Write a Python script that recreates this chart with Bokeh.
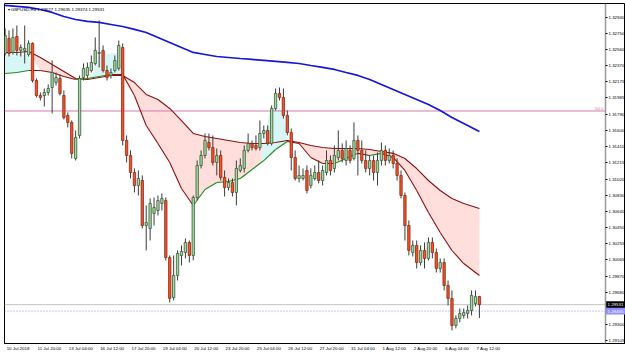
import numpy as np
from bokeh.plotting import figure
from bokeh.models import FixedTicker, PrintfTickFormatter, Label
from bokeh.core.properties import value
from bokeh.embed import file_html
from bokeh.resources import INLINE

# ---------------- data (GBPUSD H4) ----------------
opens = [
1.32513, 1.32691, 1.32525, 1.32715, 1.32549, 1.32549, 1.32501, 1.32632, 1.32192, 1.32014,
1.32014, 1.32050, 1.32109, 1.32169, 1.32216, 1.32014, 1.31777, 1.31694, 1.31267, 1.31540,
1.32228, 1.32252, 1.32311, 1.32394, 1.32513, 1.32549, 1.32311, 1.32252, 1.32311, 1.32335,
1.32584, 1.31480, 1.31302, 1.31100, 1.30946, 1.31005, 1.30471, 1.30436, 1.30614, 1.30649,
1.30732, 1.30768, 1.30091, 1.29617, 1.29878, 1.30115, 1.30151, 1.30270, 1.30115, 1.30804,
1.31183, 1.31302, 1.31457, 1.31397, 1.31219, 1.31302, 1.31041, 1.30922, 1.30982, 1.30863,
1.31124, 1.31148, 1.31362, 1.31445, 1.31421, 1.31397, 1.31563, 1.31599, 1.31445, 1.31860,
1.32038, 1.31991, 1.31777, 1.31575, 1.31278, 1.31029, 1.31029, 1.31124, 1.30946, 1.31029,
1.31100, 1.31005, 1.31100, 1.31243, 1.31148, 1.31278, 1.31362, 1.31243, 1.31362, 1.31267,
1.31480, 1.31362, 1.31243, 1.31148, 1.31243, 1.31100, 1.31243, 1.31362, 1.31243, 1.31302,
1.31207, 1.31065, 1.30827, 1.30471, 1.30151, 1.30234, 1.30032, 1.30175, 1.30080, 1.30270,
1.30151, 1.29961, 1.30032, 1.29759, 1.29605, 1.29284, 1.29367, 1.29403, 1.29427, 1.29462,
1.29545, 1.29627]
highs = [
1.32810, 1.32786, 1.32810, 1.32845, 1.32620, 1.32845, 1.32667, 1.32644, 1.32216, 1.32050,
1.32097, 1.32145, 1.32430, 1.32287, 1.32264, 1.32074, 1.31813, 1.31718, 1.31599, 1.32252,
1.32394, 1.32406, 1.32489, 1.32703, 1.32905, 1.32608, 1.32370, 1.32335, 1.32489, 1.32667,
1.32632, 1.31540, 1.31362, 1.31148, 1.31124, 1.31065, 1.30709, 1.30792, 1.30804, 1.30827,
1.30851, 1.30804, 1.30115, 1.30115, 1.30175, 1.30234, 1.30317, 1.30293, 1.30827, 1.31243,
1.31362, 1.31563, 1.31563, 1.31540, 1.31385, 1.31362, 1.31124, 1.31029, 1.31029, 1.31243,
1.31267, 1.31421, 1.31563, 1.31480, 1.31540, 1.31718, 1.31658, 1.31658, 1.31896, 1.32097,
1.32109, 1.32097, 1.31836, 1.31623, 1.31362, 1.31183, 1.31148, 1.31183, 1.31148, 1.31183,
1.31243, 1.31183, 1.31362, 1.31302, 1.31421, 1.31599, 1.31445, 1.31480, 1.31421, 1.31694,
1.31540, 1.31480, 1.31362, 1.31302, 1.31302, 1.31338, 1.31457, 1.31421, 1.31385, 1.31362,
1.31267, 1.31124, 1.30863, 1.30531, 1.30293, 1.30293, 1.30234, 1.30270, 1.30329, 1.30329,
1.30198, 1.30080, 1.30080, 1.29818, 1.29700, 1.29403, 1.29486, 1.29486, 1.29522, 1.29700,
1.29700, 1.29635]
lows = [
1.32489, 1.32477, 1.32501, 1.32489, 1.32477, 1.32394, 1.32477, 1.32169, 1.31991, 1.31955,
1.31884, 1.32014, 1.31801, 1.32133, 1.32014, 1.31730, 1.31635, 1.31267, 1.31243, 1.31504,
1.32192, 1.32216, 1.32287, 1.32370, 1.32347, 1.32287, 1.32192, 1.32216, 1.32287, 1.32311,
1.31421, 1.31219, 1.31029, 1.30863, 1.30827, 1.30436, 1.30175, 1.30293, 1.30471, 1.30590,
1.30649, 1.30056, 1.29557, 1.29581, 1.29818, 1.29996, 1.30080, 1.30032, 1.30056, 1.30768,
1.31148, 1.31267, 1.31362, 1.31183, 1.31065, 1.31005, 1.30816, 1.30887, 1.30816, 1.30709,
1.31100, 1.31100, 1.31338, 1.31362, 1.31362, 1.31362, 1.31504, 1.31421, 1.31421, 1.31836,
1.31955, 1.31741, 1.31540, 1.31124, 1.31005, 1.30982, 1.31005, 1.30851, 1.30910, 1.31005,
1.30970, 1.30946, 1.31065, 1.31065, 1.31100, 1.31243, 1.31219, 1.31183, 1.31207, 1.31243,
1.31065, 1.31207, 1.31100, 1.31065, 1.31005, 1.30946, 1.31183, 1.31183, 1.31207, 1.31148,
1.31005, 1.30792, 1.30293, 1.30115, 1.30103, 1.29961, 1.29996, 1.29961, 1.30056, 1.30080,
1.29913, 1.29913, 1.29700, 1.29522, 1.29225, 1.29249, 1.29320, 1.29367, 1.29367, 1.29403,
1.29510, 1.29374]
closes = [
1.32727, 1.32513, 1.32703, 1.32549, 1.32584, 1.32572, 1.32632, 1.32192, 1.32014, 1.31991,
1.32050, 1.32097, 1.32287, 1.32228, 1.32038, 1.31753, 1.31694, 1.31326, 1.31516, 1.32216,
1.32335, 1.32347, 1.32406, 1.32549, 1.32525, 1.32311, 1.32228, 1.32287, 1.32430, 1.32608,
1.31480, 1.31302, 1.31100, 1.30946, 1.31029, 1.30471, 1.30507, 1.30732, 1.30685, 1.30768,
1.30792, 1.30091, 1.29605, 1.29878, 1.30139, 1.30163, 1.30270, 1.30115, 1.30804, 1.31183,
1.31302, 1.31480, 1.31397, 1.31219, 1.31302, 1.31041, 1.30922, 1.30982, 1.30863, 1.31148,
1.31183, 1.31362, 1.31445, 1.31397, 1.31385, 1.31563, 1.31599, 1.31445, 1.31860, 1.32038,
1.31991, 1.31777, 1.31575, 1.31278, 1.31029, 1.31065, 1.31065, 1.30887, 1.31065, 1.31100,
1.31005, 1.31124, 1.31243, 1.31124, 1.31302, 1.31362, 1.31267, 1.31385, 1.31243, 1.31480,
1.31362, 1.31243, 1.31148, 1.31243, 1.31100, 1.31243, 1.31362, 1.31243, 1.31302, 1.31207,
1.31065, 1.30827, 1.30471, 1.30175, 1.30234, 1.30032, 1.30175, 1.30080, 1.30270, 1.30151,
1.29961, 1.30032, 1.29759, 1.29605, 1.29284, 1.29367, 1.29427, 1.29439, 1.29462, 1.29640,
1.29627, 1.29531]

# moving averages sampled at bar indices
ma_idx = [0, 3, 6, 9, 12, 15, 18, 21, 24, 27, 30, 33, 36, 39, 42, 45, 48, 51, 54, 57,
          60, 63, 66, 69, 72, 75, 78, 81, 84, 87, 90, 93, 96, 99, 102, 105, 108, 111, 114, 117, 121]
ma_blue = [1.33083, 1.33071, 1.33059, 1.33035, 1.33000, 1.32952, 1.32916, 1.32893, 1.32881, 1.32857,
           1.32833, 1.32798, 1.32762, 1.32703, 1.32643, 1.32584, 1.32525, 1.32501, 1.32477, 1.32465,
           1.32453, 1.32442, 1.32430, 1.32418, 1.32406, 1.32394, 1.32370, 1.32347, 1.32323, 1.32287,
           1.32252, 1.32204, 1.32145, 1.32085, 1.32026, 1.31967, 1.31907, 1.31836, 1.31753, 1.31682,
           1.31587]
ma_slow = [1.32525, 1.32525, 1.32537, 1.32465, 1.32382, 1.32299, 1.32216, 1.32204, 1.32228, 1.32252,
           1.32252, 1.32168, 1.32026, 1.31967, 1.31860, 1.31717, 1.31563, 1.31527, 1.31504, 1.31480,
           1.31456, 1.31444, 1.31444, 1.31456, 1.31480, 1.31456, 1.31420, 1.31397, 1.31385, 1.31385,
           1.31385, 1.31373, 1.31349, 1.31327, 1.31266, 1.31147, 1.31005, 1.30886, 1.30791, 1.30732,
           1.30672]
ma_mid = [1.32275, 1.32287, 1.32311, 1.32311, 1.32287, 1.32240, 1.32204, 1.32216, 1.32240, 1.32263,
          1.32263, 1.32014, 1.31658, 1.31444, 1.31219, 1.30910, 1.30708, 1.30898, 1.30981, 1.30993,
          1.31029, 1.31135, 1.31242, 1.31373, 1.31468, 1.31444, 1.31278, 1.31207, 1.31207, 1.31266,
          1.31327, 1.31302, 1.31327, 1.31278, 1.31124, 1.30886, 1.30625, 1.30388, 1.30174, 1.30019,
          1.29877]

# bullish cloud segments (upper edge / lower edge)
cyan_idx = [[0, 3, 6, 7], [22, 24, 27, 29, 30], [65, 67, 68, 70, 71, 72]]
cyan_top = [[1.32501, 1.32513, 1.32513, 1.32323],
            [1.32228, 1.32489, 1.32513, 1.32525, 1.32263],
            [1.31207, 1.31741, 1.31860, 1.31860, 1.31812, 1.31468]]
cyan_bot = [[1.32275, 1.32287, 1.32311, 1.32323],
            [1.32228, 1.32240, 1.32263, 1.32263, 1.32263],
            [1.31207, 1.31278, 1.31326, 1.31409, 1.31444, 1.31468]]

price_ticks = [1.32940, 1.32750, 1.32560, 1.32370, 1.32175, 1.31985, 1.31790, 1.31600, 1.31410,
               1.31215, 1.31020, 1.30830, 1.30640, 1.30450, 1.30255, 1.30065, 1.29870, 1.29680,
               1.29300, 1.29105]
time_tick_bars = [0, 8, 16, 24, 32, 40, 48, 56, 64, 72, 80, 88, 96, 104, 112, 120]
time_tick_labels = ["10 Jul 2018", "11 Jul 20:00", "13 Jul 04:00", "16 Jul 12:00", "17 Jul 20:00",
                    "19 Jul 04:00", "20 Jul 12:00", "23 Jul 20:00", "25 Jul 04:00", "26 Jul 12:00",
                    "27 Jul 20:00", "31 Jul 04:00", "1 Aug 12:00", "2 Aug 20:00", "6 Aug 04:00",
                    "7 Aug 12:00"]
fib_level = 1.31830
ask_line = 1.29455
tag_levels = [1.29531, 1.29455]
tag_texts = ["1.29531", "1.29455"]
title_text = "\u25be GBPUSD,H4  1.29627 1.29635 1.29374 1.29531"

# ---------------- figure ----------------
FONT = "Liberation Sans"
FS = "4.4px"
PX = 3.92                      # pixels per bar
X0 = -0.15
XA = X0 + (605 - 4) / PX       # price-scale position
X1 = X0 + 621 / PX
Y0, Y1 = 1.29070, 1.33106
HALF_TAG = 3.4 * (Y1 - Y0) / 340

p = figure(width=625, height=353, x_range=(X0, X1), y_range=(Y0, Y1),
           output_backend="svg", toolbar_location=None, y_axis_location="right",
           min_border_left=4, min_border_top=3, min_border_right=0, min_border_bottom=10,
           background_fill_color="white", border_fill_color="white")
p.xgrid.visible = False
p.ygrid.visible = False
p.outline_line_color = "black"
p.outline_line_width = 1

idx = np.arange(len(opens))
o = np.array(opens); c = np.array(closes); h = np.array(highs); l = np.array(lows)

# clouds
slow = np.array(ma_slow); mid = np.array(ma_mid); mi = np.array(ma_idx)
lower = np.where(mi >= 7, np.minimum(mid, slow), slow)
p.varea(x=mi, y1=slow, y2=lower, fill_color="#ffdedb", fill_alpha=1.0)
for ci, ct, cb in zip(cyan_idx, cyan_top, cyan_bot):
    p.varea(x=ci, y1=ct, y2=cb, fill_color="#d9f6f6", fill_alpha=1.0)

# horizontal levels (end at the price scale)
p.segment(x0=[X0], y0=[fib_level], x1=[XA], y1=[fib_level], line_color="#d67aae", line_width=1)
p.segment(x0=[X0], y0=[closes[-1]], x1=[XA], y1=[closes[-1]], line_color="#c4c4c4", line_width=1)
p.segment(x0=[X0], y0=[ask_line], x1=[XA], y1=[ask_line], line_color="#8f8fff", line_width=1,
          line_dash="1 2")

# moving averages
p.line(mi, slow, line_color="#8b1010", line_width=1.1)
seg_col = ["#1e8c1e" if mid[k + 1] > mid[k] else "#8b1010" for k in range(len(mid) - 1)]
p.segment(x0=mi[:-1], y0=mid[:-1], x1=mi[1:], y1=mid[1:], line_color=seg_col, line_width=1.1)
p.line(ma_idx, ma_blue, line_color="#1616d6", line_width=1.7)

# candles
up = c >= o
body_fill = np.where(up, "#a3d9a3", "#f2542d")
body_line = np.where(up, "#3a5a3a", "#8a2a10")
p.segment(x0=idx, y0=h, x1=idx, y1=l, line_color="#3c3c3c", line_width=1)
p.vbar(x=idx, width=0.6, top=np.maximum(o, c), bottom=np.minimum(o, c),
       fill_color=list(body_fill), line_color=list(body_line), line_width=0.8)

# price tags on the price scale
tl = np.array(tag_levels)
p.quad(left=XA, right=X1, top=tl + HALF_TAG, bottom=tl - HALF_TAG,
       fill_color=["black", "#8f8fff"], line_color=None)
p.text(x=[XA, XA], y=tag_levels, text=tag_texts, x_offset=2, text_color="white",
       text_font=value(FONT), text_font_size=FS, text_baseline="middle", text_align="left")

# price axis (drawn at the scale position)
p.yaxis.fixed_location = XA
p.yaxis.ticker = FixedTicker(ticks=price_ticks)
p.yaxis.formatter = PrintfTickFormatter(format="%.5f")
p.yaxis.major_label_text_font = FONT
p.yaxis.major_label_text_font_size = FS
p.yaxis.major_label_text_color = "black"
p.yaxis.major_tick_out = 2
p.yaxis.major_tick_in = 0
p.yaxis.minor_tick_out = 0
p.yaxis.minor_tick_in = 0
p.yaxis.major_label_standoff = 1
p.yaxis.axis_line_color = "#9a9a9a"
p.yaxis.axis_line_width = 1.5

xt = [round(b + 3.3, 1) for b in time_tick_bars]
p.xaxis.ticker = FixedTicker(ticks=xt)
p.xaxis.major_label_overrides = {t: s for t, s in zip(xt, time_tick_labels)}
p.xaxis.major_label_text_font = FONT
p.xaxis.major_label_text_font_size = FS
p.xaxis.major_label_text_color = "black"
p.xaxis.major_tick_out = 0
p.xaxis.major_tick_in = 0
p.xaxis.minor_tick_out = 0
p.xaxis.minor_tick_in = 0
p.xaxis.major_label_standoff = 2
p.xaxis.axis_line_color = "black"

# texts
p.add_layout(Label(x=X0, y=Y1, x_offset=3, y_offset=-6, text=title_text, text_font=FONT,
                   text_font_size=FS, text_color="black", text_baseline="middle"))
p.add_layout(Label(x=XA, y=fib_level, x_offset=-2, y_offset=1, text="50.0", text_font=FONT,
                   text_font_size=FS, text_color="#d67aae", text_align="right",
                   text_baseline="bottom"))

open("out.html", "w").write(file_html(p, INLINE))
